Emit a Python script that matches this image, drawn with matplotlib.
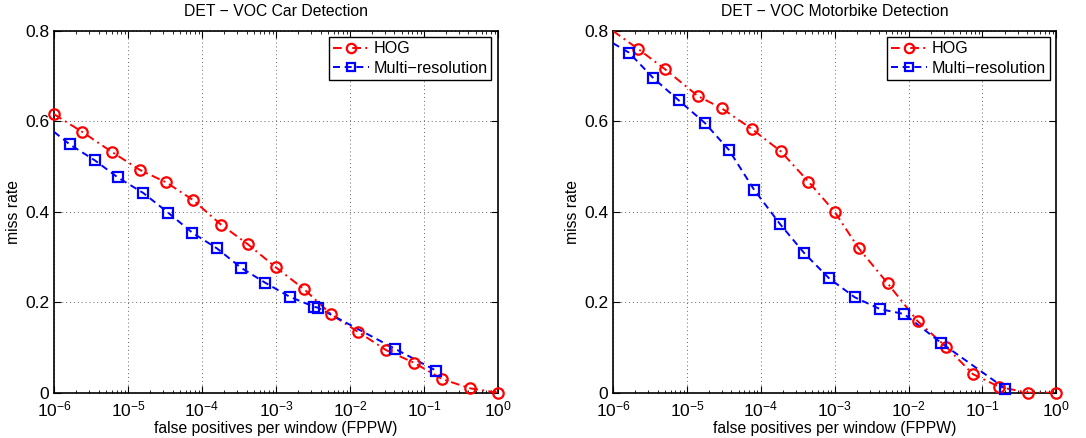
import matplotlib
matplotlib.use("Agg")
import matplotlib.pyplot as plt
from matplotlib.lines import Line2D
from matplotlib.ticker import LogLocator, NullFormatter

plt.rcParams['font.family'] = ['Liberation Sans', 'DejaVu Sans']
plt.rcParams['mathtext.default'] = 'regular'

MINUS = '\u2212'
titles = [f"DET {MINUS} VOC Car Detection", f"DET {MINUS} VOC Motorbike Detection"]
series_names = ["HOG", f"Multi{MINUS}resolution"]
xlabel_text = "false positives per window (FPPW)"
ylabel_text = "miss rate"
yticks = [0, 0.2, 0.4, 0.6, 0.8]
yticklabels = ["0", "0.2", "0.4", "0.6", "0.8"]
xticks = [1e-6, 1e-5, 1e-4, 1e-3, 1e-2, 1e-1, 1e0]
xticklabels = [r"$10^{-6}$", r"$10^{-5}$", r"$10^{-4}$", r"$10^{-3}$",
               r"$10^{-2}$", r"$10^{-1}$", r"$10^{0}$"]

# Car detection
car_hog_fppw = [1e-6, 2.4e-6, 6.0e-6, 1.44e-5, 3.3e-5, 7.6e-5, 1.8e-4, 4.2e-4,
                1.0e-3, 2.4e-3, 5.6e-3, 1.3e-2, 3.1e-2, 7.4e-2, 0.177, 0.42, 1.0]
car_hog_miss = [0.616, 0.577, 0.533, 0.493, 0.465, 0.426, 0.372, 0.328,
                0.277, 0.229, 0.173, 0.134, 0.094, 0.066, 0.030, 0.0097, 0.0]
car_hog_marked = [True] * 17

car_mr_fppw = [1e-6, 1.64e-6, 3.56e-6, 7.3e-6, 1.6e-5, 3.5e-5, 7.4e-5, 1.6e-4,
               3.4e-4, 7.2e-4, 1.54e-3, 3.3e-3, 3.7e-3, 4.07e-2, 0.145]
car_mr_miss = [0.577, 0.549, 0.514, 0.476, 0.442, 0.398, 0.354, 0.319,
               0.276, 0.243, 0.212, 0.190, 0.188, 0.097, 0.049]
car_mr_marked = [False] + [True] * 14

# Motorbike detection
mb_hog_fppw = [1e-6, 2.2e-6, 5.1e-6, 1.41e-5, 2.96e-5, 7.6e-5, 1.86e-4, 4.4e-4,
               1.0e-3, 2.1e-3, 5.2e-3, 1.33e-2, 3.2e-2, 7.43e-2, 0.17, 0.416, 1.0]
mb_hog_miss = [0.800, 0.760, 0.715, 0.656, 0.629, 0.583, 0.534, 0.467,
               0.400, 0.320, 0.242, 0.158, 0.102, 0.041, 0.0126, 0.0, 0.0]
mb_hog_marked = [False] + [True] * 16

mb_mr_fppw = [1e-6, 1.65e-6, 3.5e-6, 7.7e-6, 1.74e-5, 3.7e-5, 8.1e-5, 1.8e-4,
              3.9e-4, 8.4e-4, 1.87e-3, 4.1e-3, 8.7e-3, 2.77e-2, 0.204]
mb_mr_miss = [0.773, 0.752, 0.696, 0.647, 0.597, 0.537, 0.449, 0.374,
              0.308, 0.253, 0.211, 0.185, 0.174, 0.110, 0.009]
mb_mr_marked = [False] + [True] * 14

panels = [
    (titles[0], [(car_hog_fppw, car_hog_miss, car_hog_marked),
                 (car_mr_fppw, car_mr_miss, car_mr_marked)]),
    (titles[1], [(mb_hog_fppw, mb_hog_miss, mb_hog_marked),
                 (mb_mr_fppw, mb_mr_miss, mb_mr_marked)]),
]

styles = [
    dict(color=(1, 0, 0), ls=(0, (4.5, 2.2, 1.0, 2.2)), marker='o', ms=7.5),
    dict(color=(0, 0, 1), ls=(0, (3.6, 2.4)), marker='s', ms=6.5),
]

fig = plt.figure(figsize=(10.86, 4.38), dpi=100)
positions = [[0.0497, 0.1034, 0.4088, 0.8258], [0.5645, 0.1034, 0.4082, 0.8258]]

for pos, (title, series) in zip(positions, panels):
    ax = fig.add_axes(pos)
    ax.set_xscale('log')
    handles = []
    for (xs, ys, marked), st, name in zip(series, styles, series_names):
        ax.plot(xs, ys, color=st['color'], ls=st['ls'], lw=1.4, zorder=3)
        mx = [x for x, m in zip(xs, marked) if m]
        my = [y for y, m in zip(ys, marked) if m]
        ax.plot(mx, my, ls='none', marker=st['marker'], ms=st['ms'],
                mfc='none', mec=st['color'], mew=1.6, clip_on=False, zorder=4)
        handles.append(Line2D([], [], color=st['color'], ls=st['ls'], lw=1.4,
                              marker=st['marker'], ms=st['ms'] * 0.9, mfc='none',
                              mec=st['color'], mew=1.6))
    ax.set_xlim(1e-6, 1)
    ax.set_ylim(0, 0.8)
    ax.set_xticks(xticks)
    ax.set_xticklabels(xticklabels)
    ax.xaxis.set_minor_locator(LogLocator(base=10, subs=range(2, 10), numticks=20))
    ax.xaxis.set_minor_formatter(NullFormatter())
    ax.set_yticks(yticks)
    ax.set_yticklabels(yticklabels)
    ax.tick_params(which='both', direction='in', top=True, right=True,
                   colors='black')
    ax.tick_params(axis='y', labelsize=12.5)
    ax.tick_params(axis='x', labelsize=12.5, pad=5)
    ax.tick_params(which='major', length=5, width=0.8)
    ax.tick_params(which='minor', length=2.5, width=0.6)
    ax.grid(True, which='major', ls=(0, (1, 3)), color='0.4', lw=0.7)
    for sp in ax.spines.values():
        sp.set_linewidth(1.2)
        sp.set_color('black')
    ax.set_title(title, fontsize=11.3, pad=11)
    ax.set_xlabel(xlabel_text, fontsize=11.3, labelpad=1)
    ax.set_ylabel(ylabel_text, fontsize=11.3, labelpad=3)
    leg = ax.legend(handles, series_names, loc='upper right', fontsize=11.6,
                    fancybox=False, framealpha=1, edgecolor='black',
                    borderaxespad=0.4, handlelength=2.2, handletextpad=0.3,
                    borderpad=0.25, labelspacing=0.28)
    leg.get_frame().set_linewidth(1.0)

fig.savefig("out.png", dpi=100)
